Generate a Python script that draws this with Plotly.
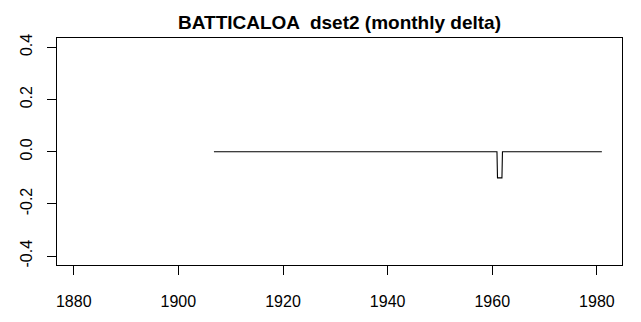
import plotly.graph_objects as go

# Data (monthly delta series)
years = [1906.8, 1960.9, 1961.0, 1961.85, 1961.95, 1980.95]
delta = [0.0, 0.0, -0.1, -0.1, 0.0, 0.0]

x_ticks = [1880, 1900, 1920, 1940, 1960, 1980]
y_ticks = [-0.4, -0.2, 0.0, 0.2, 0.4]
y_tick_labels = ["-0.4", "-0.2", "0.0", "0.2", "0.4"]

fig = go.Figure()
fig.add_trace(go.Scatter(x=years, y=delta, mode="lines",
                         line=dict(color="black", width=1.1, shape="linear"),
                         hoverinfo="skip", showlegend=False))

font_family = "Liberation Sans, Arial, sans-serif"
fig.update_layout(
    width=641, height=322,
    margin=dict(l=57, r=19, t=38, b=57),
    paper_bgcolor="white", plot_bgcolor="white",
    title=dict(text="<b>BATTICALOA  dset2 (monthly delta)</b>",
               x=0.5, xref="paper", xanchor="center",
               y=1 - 22.5 / 322, yref="container", yanchor="middle",
               font=dict(family=font_family, size=19, color="black")),
    font=dict(family=font_family, color="black"),
)
fig.update_xaxes(range=[1876.8, 1984.8], tickmode="array", tickvals=x_ticks,
                 ticks="outside", ticklen=9, tickcolor="black", tickwidth=1,
                 showgrid=False, zeroline=False, showline=True, linecolor="black",
                 linewidth=1, mirror=True, ticklabelstandoff=13,
                 tickfont=dict(size=16, family=font_family, color="black"))
fig.update_yaxes(range=[-0.434, 0.436], tickmode="array", tickvals=y_ticks,
                 ticktext=y_tick_labels, tickangle=-90,
                 ticks="outside", ticklen=9, tickcolor="black", tickwidth=1,
                 showgrid=False, zeroline=False, showline=True, linecolor="black",
                 linewidth=1, mirror=True, ticklabelstandoff=9,
                 tickfont=dict(size=16, family=font_family, color="black"))

fig.write_html("out.html")
